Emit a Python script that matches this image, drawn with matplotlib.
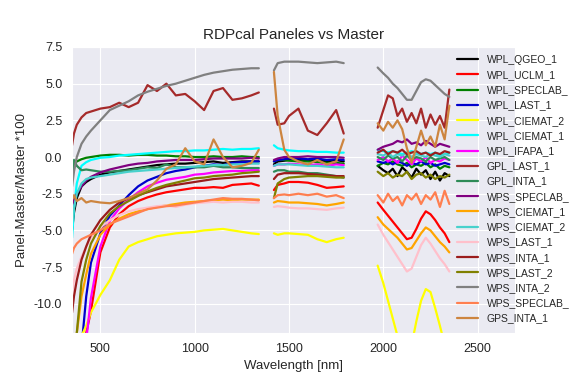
import numpy as np
import matplotlib
matplotlib.use('Agg')
import matplotlib.pyplot as plt
import seaborn as sns

# wavelength grids of the three detector segments (water bands left out)
wl_vis = [350, 360, 375, 400, 425, 450, 500, 550, 600, 650, 700, 750, 800, 850,
          900, 950, 1000, 1050, 1100, 1150, 1200, 1250, 1300, 1340]
wl_swir1 = [1420, 1440, 1475, 1500, 1550, 1600, 1650, 1700, 1750, 1790]
wl_swir2 = [1970, 2000, 2025, 2050, 2075, 2100, 2125, 2150, 2175, 2200, 2225,
            2250, 2275, 2300, 2325, 2350]

# (Panel-Master)/Master*100: vis + swir1 + swir2
wpl_qgeo_1 = [-5.0, -3.8, -2.8, -2.0, -1.7, -1.5, -1.2, -1.05, -0.95, -0.85, -0.75, -0.65,
              -0.55, -0.5, -0.45, -0.45, -0.4, -0.35, -0.3, -0.4, -0.35, -0.3, -0.3, -0.3,
              -0.5, -0.3, -0.25, -0.2, -0.2, -0.25, -0.2, -0.3, -0.2, -0.3,
              -0.6, -0.9, -1.1, -0.8, -1.3, -0.7, -1.0, -1.4, -0.8, -1.2, -0.9, -1.5,
              -1.0, -1.6, -1.1, -1.3]
wpl_uclm_1 = [-18.0, -16.5, -14.5, -13.0, -12.0, -10.5, -6.5, -4.8, -3.9, -3.35, -3.0, -2.75,
              -2.55, -2.4, -2.3, -2.2, -2.1, -2.1, -2.05, -2.1, -1.9, -1.85, -1.8, -1.95,
              -2.25, -1.9, -1.8, -1.7, -1.7, -1.75, -1.9, -2.1, -2.05, -2.0,
              -3.1, -3.6, -4.0, -4.4, -4.8, -5.2, -5.6, -5.5, -4.9, -4.2, -3.7, -3.9,
              -4.3, -4.8, -5.2, -5.8]
wpl_speclab = [-0.9, -0.5, -0.3, -0.15, -0.05, 0.0, 0.1, 0.15, 0.15, 0.1, 0.15, 0.15,
               0.1, 0.1, 0.05, 0.05, 0.0, 0.0, 0.05, 0.0, 0.0, 0.05, 0.0, 0.0,
               -0.3, -0.2, -0.2, -0.25, -0.3, -0.3, -0.35, -0.4, -0.4, -0.45,
               -0.6, -0.4, -0.5, -0.3, -0.5, -0.6, -0.4, -0.7, -0.5, -0.6, -0.4, -0.7,
               -0.5, -0.8, -0.6, -0.7]
wpl_last_1 = [-20.0, -17.0, -14.5, -13.0, -9.5, -7.2, -5.2, -4.0, -3.3, -2.6, -2.0, -1.6,
              -1.35, -1.1, -0.95, -0.85, -0.7, -0.6, -0.5, -0.55, -0.4, -0.35, -0.3, -0.3,
              -0.3, -0.2, -0.15, -0.1, -0.1, -0.15, -0.1, -0.2, -0.15, -0.2,
              -0.3, -0.4, -0.3, -0.5, -0.3, -0.4, -0.6, -0.4, -0.5, -0.3, -0.5, -0.4,
              -0.6, -0.5, -0.4, -0.5]
wpl_ciemat_2 = [-20.0, -18.0, -15.5, -12.2, -11.5, -10.6, -9.4, -8.4, -7.0, -6.1, -5.8, -5.6,
                -5.4, -5.3, -5.2, -5.15, -5.1, -5.0, -4.95, -4.9, -5.0, -5.1, -5.2, -5.25,
                -5.2, -5.3, -5.2, -5.2, -5.25, -5.3, -5.6, -5.8, -5.6, -5.5,
                -7.4, -8.6, -9.8, -11.0, -12.2, -13.2, -13.5, -12.8, -11.2, -9.8, -9.0, -9.2,
                -10.3, -11.5, -12.8, -13.8]
wpl_ciemat_1 = [-5.5, -3.5, -1.8, -0.6, -0.35, -0.2, -0.05, 0.0, 0.1, 0.15, 0.2, 0.25,
                0.3, 0.35, 0.4, 0.4, 0.45, 0.45, 0.5, 0.55, 0.5, 0.55, 0.55, 0.6,
                0.8, 0.6, 0.5, 0.45, 0.4, 0.4, 0.35, 0.35, 0.3, 0.3,
                0.5, 0.4, 0.3, 0.4, 0.3, 0.2, 0.3, 0.4, 0.3, 0.2, 0.3, 0.2,
                0.3, 0.1, 0.2, 0.3]
wpl_ifapa_1 = [-22.0, -20.0, -17.0, -14.5, -12.5, -9.6, -6.1, -4.35, -3.5, -2.9, -2.4, -2.0,
               -1.75, -1.55, -1.45, -1.35, -1.2, -1.15, -1.05, -1.0, -0.95, -0.95, -0.9, -0.9,
               -0.6, -0.5, -0.5, -0.45, -0.5, -0.55, -0.5, -0.6, -0.5, -0.55,
               -0.2, 0.0, -0.3, -0.1, -0.4, 0.1, -0.2, -0.5, -0.1, -0.3, 0.0, -0.4,
               -0.2, -0.3, -0.1, -0.2]
gpl_last_1 = [0.8, 1.6, 2.2, 2.7, 3.0, 3.1, 3.3, 3.4, 3.7, 3.4, 3.7, 4.9,
              4.5, 5.0, 4.2, 4.3, 3.8, 3.2, 4.5, 4.7, 3.9, 4.0, 4.2, 4.4,
              3.3, 2.2, 2.3, 2.8, 3.3, 1.8, 1.5, 2.3, 3.2, 1.6,
              2.0, 3.2, 4.2, 4.0, 2.8, 3.3, 2.4, 3.0, 2.3, 3.3, 2.0, 2.9,
              2.2, 2.8, 2.0, 4.6]
gpl_inta_1 = [-1.4, -0.2, -0.6, -0.9, -0.85, -0.9, -1.0, -1.0, -0.95, -0.9, -0.8, -0.7,
              -0.75, -0.5, -0.7, -0.7, -0.7, -0.7, -0.6, -0.7, -0.7, -0.75, -0.75, -0.75,
              -1.0, -0.9, -0.9, -1.0, -1.0, -1.1, -1.1, -1.2, -1.3, -1.4,
              0.0, -0.2, 0.1, -0.1, 0.0, -0.3, 0.1, -0.2, 0.0, -0.1, -0.3, 0.0,
              -0.2, -0.1, 0.0, -0.2]
wps_speclab = [-3.3, -2.9, -2.5, -2.0, -1.6, -1.35, -1.05, -0.85, -0.7, -0.55, -0.45, -0.4,
               -0.3, -0.25, -0.2, -0.2, -0.2, -0.15, -0.1, -0.1, -0.1, -0.1, -0.05, -0.1,
               -0.2, -0.1, 0.0, 0.0, 0.0, 0.05, 0.0, 0.0, 0.0, -0.05,
               0.5, 0.7, 0.8, 0.9, 1.1, 1.0, 1.2, 0.9, 1.0, 0.8, 1.1, 0.9,
               0.7, 0.9, 0.8, 0.7]
wps_ciemat_1 = [-17.0, -14.5, -12.0, -9.5, -8.0, -6.6, -5.3, -4.6, -4.2, -3.9, -3.7, -3.55,
                -3.4, -3.3, -3.2, -3.1, -3.05, -3.0, -2.95, -2.9, -2.95, -2.9, -2.9, -2.9,
                -3.1, -3.0, -3.05, -3.1, -3.1, -3.15, -3.2, -3.3, -3.2, -3.1,
                -4.1, -4.6, -4.9, -5.2, -5.5, -5.9, -6.3, -6.2, -5.7, -5.2, -4.8, -5.0,
                -5.4, -5.8, -6.1, -6.5]
wps_ciemat_2 = [-4.5, -3.5, -2.5, -1.8, -1.5, -1.4, -1.3, -1.2, -1.1, -1.0, -0.95, -0.9,
                -0.85, -0.8, -0.75, -0.7, -0.65, -0.6, -0.55, -0.55, -0.5, -0.5, -0.45, -0.45,
                -0.6, -0.5, -0.5, -0.5, -0.55, -0.6, -0.6, -0.65, -0.7, -0.7,
                0.2, 0.1, 0.3, 0.0, 0.2, 0.1, 0.3, 0.0, 0.2, 0.1, 0.0, 0.2,
                0.1, 0.0, 0.2, 0.1]
wps_last_1 = [-9.3, -8.4, -7.6, -6.8, -6.1, -5.5, -4.8, -4.3, -3.95, -3.7, -3.55, -3.45,
              -3.35, -3.3, -3.4, -3.25, -3.15, -3.1, -3.05, -3.1, -3.05, -3.05, -3.1, -3.1,
              -3.4, -3.35, -3.4, -3.45, -3.5, -3.5, -3.55, -3.6, -3.5, -3.45,
              -4.6, -5.3, -5.8, -6.3, -6.8, -7.3, -7.8, -7.6, -6.8, -6.0, -5.5, -5.9,
              -6.4, -6.9, -7.3, -7.8]
wps_inta_1 = [-10.6, -9.5, -8.4, -7.0, -6.1, -5.3, -4.3, -3.6, -3.1, -2.8, -2.6, -2.4,
              -2.2, -2.0, -1.9, -1.8, -1.7, -1.6, -1.5, -1.45, -1.4, -1.35, -1.3, -1.3,
              -1.5, -1.2, -1.1, -1.1, -1.1, -1.15, -1.2, -1.25, -1.3, -1.3,
              0.3, 0.5, 0.2, 0.4, 0.3, 0.5, 0.2, 0.3, 0.4, 0.2, 0.3, 0.1,
              0.3, 0.2, 0.4, 0.3]
wps_last_2 = [-16.0, -14.0, -12.0, -8.5, -7.0, -5.9, -4.7, -3.85, -3.35, -3.0, -2.65, -2.35,
              -2.1, -1.9, -1.75, -1.6, -1.45, -1.4, -1.3, -1.25, -1.2, -1.1, -1.05, -1.0,
              -2.8, -1.8, -1.5, -1.4, -1.35, -1.3, -1.3, -1.35, -1.4, -1.4,
              -1.0, -1.3, -1.1, -1.4, -1.2, -1.3, -1.0, -1.5, -1.2, -1.1, -1.4, -1.2,
              -1.5, -1.3, -1.4, -1.2]
wps_inta_2 = [-2.0, -1.0, 0.0, 0.9, 1.4, 1.8, 2.5, 3.2, 3.5, 3.8, 4.2, 4.45,
              4.65, 4.85, 5.0, 5.2, 5.4, 5.6, 5.75, 5.85, 5.95, 6.0, 6.05, 6.05,
              5.9, 6.4, 6.5, 6.5, 6.5, 6.45, 6.4, 6.45, 6.5, 6.4,
              6.1, 5.7, 5.4, 5.0, 4.7, 4.3, 3.9, 3.9, 4.5, 5.1, 5.3, 5.2,
              4.9, 4.6, 4.3, 4.1]
wps_speclab_2 = [-6.6, -6.2, -5.9, -5.6, -5.45, -5.3, -5.0, -4.55, -4.3, -4.05, -3.8, -3.55,
                 -3.45, -3.35, -3.3, -3.2, -3.1, -3.0, -2.9, -2.8, -2.85, -2.85, -2.9, -2.95,
                 -2.8, -2.6, -2.55, -2.6, -2.5, -2.6, -2.5, -2.7, -2.6, -2.8,
                 -2.6, -3.1, -2.5, -3.0, -2.7, -3.3, -2.6, -2.9, -2.5, -3.2, -2.6, -2.9,
                 -2.4, -3.4, -2.3, -3.2]
gps_inta_1 = [-2.9, -2.6, -3.0, -2.8, -3.1, -3.0, -3.1, -3.15, -3.0, -2.8, -2.5, -2.2,
              -1.6, -0.8, -0.5, 0.6, -0.3, -0.5, 1.2, 0.0, -0.7, -0.6, -0.4, 0.5,
              5.8, 2.8, 0.5, 0.0, -0.3, -0.5, -0.2, -0.5, -0.3, 1.2,
              2.3, 1.8, 2.4, 2.0, 2.5, 1.9, 0.6, -0.4, 0.7, 1.8, 0.8, 1.4,
              0.7, 2.2, 1.2, 3.5]

labels = ['WPL_QGEO_1', 'WPL_UCLM_1', 'WPL_SPECLAB_', 'WPL_LAST_1', 'WPL_CIEMAT_2',
          'WPL_CIEMAT_1', 'WPL_IFAPA_1', 'GPL_LAST_1', 'GPL_INTA_1', 'WPS_SPECLAB_',
          'WPS_CIEMAT_1', 'WPS_CIEMAT_2', 'WPS_LAST_1', 'WPS_INTA_1', 'WPS_LAST_2',
          'WPS_INTA_2', 'WPS_SPECLAB_', 'GPS_INTA_1']
series = [wpl_qgeo_1, wpl_uclm_1, wpl_speclab, wpl_last_1, wpl_ciemat_2, wpl_ciemat_1,
          wpl_ifapa_1, gpl_last_1, gpl_inta_1, wps_speclab, wps_ciemat_1, wps_ciemat_2,
          wps_last_1, wps_inta_1, wps_last_2, wps_inta_2, wps_speclab_2, gps_inta_1]
colors = ['black', 'red', 'green', 'mediumblue', 'yellow', 'cyan', 'magenta', 'brown',
          'seagreen', 'purple', 'orange', 'mediumturquoise', 'pink', '#9b1c1c', 'olive',
          'gray', 'coral', 'peru']

sns.set_style('darkgrid')
plt.rcParams['font.family'] = ['Liberation Sans', 'DejaVu Sans']

fig = plt.figure(figsize=(5.72, 3.82), dpi=100)
ax = fig.add_axes([0.126, 0.128, 0.775, 0.749])

# one nan between the segments breaks the line at the absorption bands
wl = np.array(wl_vis + [np.nan] + wl_swir1 + [np.nan] + wl_swir2, dtype=float)
n1, n2 = len(wl_vis), len(wl_vis) + len(wl_swir1)
for vals, lab, col in zip(series, labels, colors):
    v = list(vals[:n1]) + [np.nan] + list(vals[n1:n2]) + [np.nan] + list(vals[n2:])
    ax.plot(wl, v, color=col, lw=1.6, label=lab)

ax.set_xlim(350, 2700)
ax.set_ylim(-12, 7.5)
ax.set_xticks([500, 1000, 1500, 2000, 2500])
ax.set_yticks([-10, -7.5, -5, -2.5, 0, 2.5, 5, 7.5])
ax.yaxis.set_major_formatter(matplotlib.ticker.FormatStrFormatter('%.1f'))
ax.tick_params(labelsize=9)
ax.set_xlabel('Wavelength [nm]', fontsize=9.5)
ax.set_ylabel('Panel-Master/Master *100', fontsize=9.5)
ax.set_title('RDPcal Paneles vs Master', fontsize=11)
ax.legend(loc='upper left', bbox_to_anchor=(0.848, 1.005), fontsize=7.5,
          labelspacing=0.5, handlelength=2.0, frameon=False)

fig.savefig('out.png', dpi=100)
